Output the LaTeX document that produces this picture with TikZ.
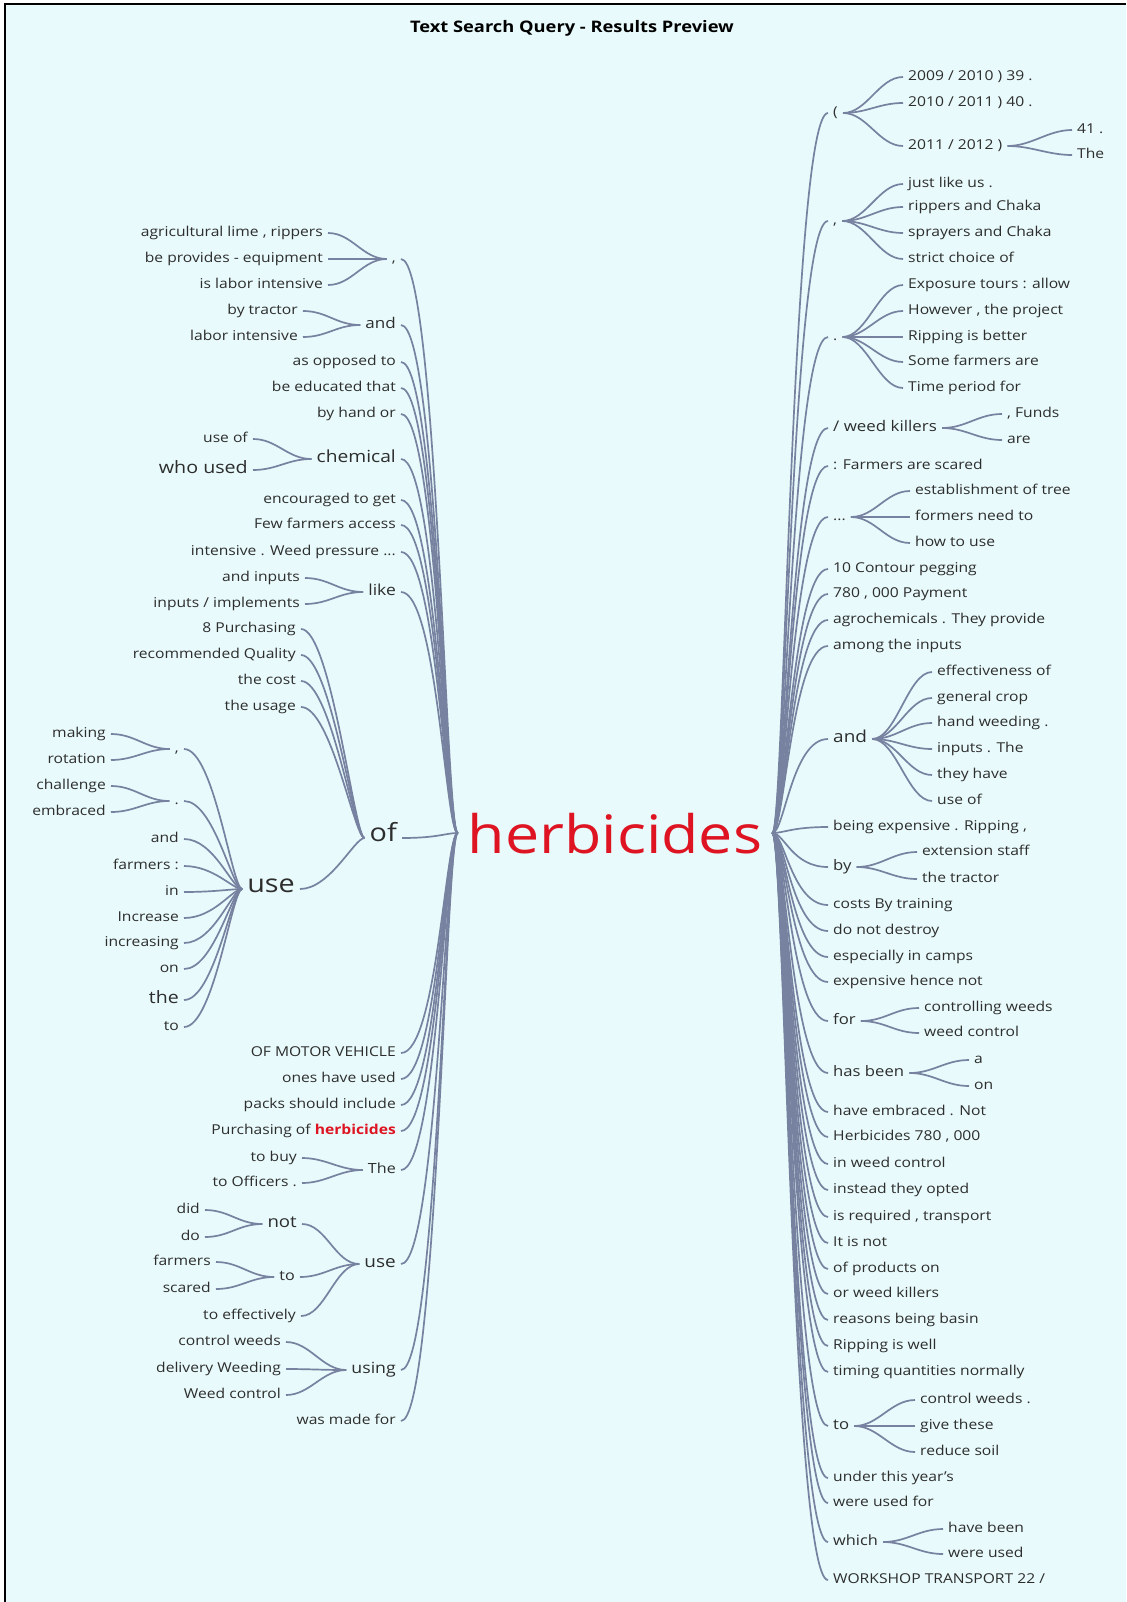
\documentclass[tikz,border=0pt]{standalone}
\usepackage{fontspec}
\setmainfont{Open Sans}[FakeStretch=1.15]

\definecolor{paper}{RGB}{232,250,251}
\definecolor{wire}{RGB}{118,130,160}
\definecolor{ink}{RGB}{45,45,45}
\definecolor{hot}{RGB}{222,20,34}

\tikzset{
  word/.style={inner xsep=5pt, inner ysep=0pt, text height=1.5ex, text depth=.25ex,
    text=ink, font=\fontsize{13.6}{16}\selectfont},
  lw/.style={word, anchor=east},
  rw/.style={word, anchor=west},
  sz/.style={font=\fontsize{#1}{#1}\selectfont},
  link/.style 2 args={draw=wire, line width=1.7pt,
    to path={.. controls +(#1,0) and +(-#2,0) .. (\tikztotarget)}},
  twig/.style={link={24}{24}},
  lroot/.style={link={36}{12}},
  rroot/.style={link={12}{36}},
}

\begin{document}
\begin{tikzpicture}[x=1pt,y=-1pt]
\useasboundingbox (0,0) rectangle (1126,1602);
\fill[white] (0,0) rectangle (1126,1602);
\fill[paper] (5,4) rectangle (1126,1602);
\draw[line width=1.5pt] (5,1602) -- (5,4) -- (1126,4);

\node[font=\bfseries\fontsize{15.9}{18}\selectfont] (title) at (572,28) {Text Search Query - Results Preview};

\node[word, text=hot, inner xsep=10pt, text height=40pt, text depth=0pt, sz=53] (hb) at (615,833) {herbicides};

% left side
\node[lw] (Lcm) at (401,259) {,};
\node[lw] (Lcm1) at (328,233) {agricultural lime , rippers};
\node[lw] (Lcm2) at (328,259) {be provides - equipment};
\node[lw] (Lcm3) at (328,285) {is labor intensive};
\node[lw,sz=14.8] (Land) at (401,325) {and};
\node[lw] (Land1) at (303,311) {by tractor};
\node[lw] (Land2) at (303,337) {labor intensive};
\node[lw] (L3) at (401,362) {as opposed to};
\node[lw] (L4) at (401,388) {be educated that};
\node[lw] (L5) at (401,414) {by hand or};
\node[lw,sz=16.7] (Lche) at (401,459) {chemical};
\node[lw] (Lche1) at (253,439) {use of};
\node[lw,sz=17.1] (Lche2) at (253,470) {who used};
\node[lw] (L7) at (401,500) {encouraged to get};
\node[lw] (L8) at (401,525) {Few farmers access};
\node[lw] (L9) at (401,552) {intensive . Weed pressure ...};
\node[lw,sz=15.2] (Llik) at (401,592) {like};
\node[lw] (Llik1) at (305,578) {and inputs};
\node[lw] (Llik2) at (305,604) {inputs / implements};
\node[lw,sz=25] (Lof) at (402,838) {of};
\node[lw] (Lof1) at (301,629) {8 Purchasing};
\node[lw] (Lof2) at (301,655) {recommended Quality};
\node[lw] (Lof3) at (301,681) {the cost};
\node[lw] (Lof4) at (301,707) {the usage};
\node[lw,sz=25] (Luse) at (300,889) {use};
\node[lw] (Lu1) at (184,749) {,};
\node[lw] (Lu1a) at (111,734) {making};
\node[lw] (Lu1b) at (111,760) {rotation};
\node[lw] (Lu2) at (184,801) {.};
\node[lw] (Lu2a) at (111,786) {challenge};
\node[lw] (Lu2b) at (111,812) {embraced};
\node[lw] (Lu3) at (184,839) {and};
\node[lw] (Lu4) at (184,866) {farmers :};
\node[lw] (Lu5) at (184,892) {in};
\node[lw] (Lu6) at (184,918) {Increase};
\node[lw] (Lu7) at (184,943) {increasing};
\node[lw] (Lu8) at (184,969) {on};
\node[lw,sz=17] (Lu9) at (184,1000) {the};
\node[lw] (Lu10) at (184,1027) {to};
\node[lw] (L12) at (401,1053) {OF MOTOR VEHICLE};
\node[lw] (L13) at (401,1079) {ones have used};
\node[lw] (L14) at (401,1105) {packs should include};
\node[lw] (L15) at (401,1131) {Purchasing of {\bfseries\color{hot}herbicides}};
\node[lw,sz=14] (LThe) at (401,1170) {The};
\node[lw] (LThe1) at (302,1158) {to buy};
\node[lw] (LThe2) at (302,1183) {to Officers .};
\node[lw,sz=16.5] (Lus) at (401,1264) {use};
\node[lw,sz=16.2] (Lnot) at (302,1224) {not};
\node[lw] (Lnot1) at (205,1210) {did};
\node[lw] (Lnot2) at (205,1237) {do};
\node[lw,sz=14] (Lto) at (300,1277) {to};
\node[lw] (Lto1) at (216,1262) {farmers};
\node[lw] (Lto2) at (216,1289) {scared};
\node[lw] (Lus3) at (301,1316) {to effectively};
\node[lw,sz=15.4] (Lusi) at (401,1370) {using};
\node[lw] (Lusi1) at (286,1342) {control weeds};
\node[lw] (Lusi2) at (286,1369) {delivery Weeding};
\node[lw] (Lusi3) at (286,1395) {Weed control};
\node[lw] (L19) at (401,1421) {was made for};

\draw[lroot] (Lcm.east) to (hb.west);
\draw[lroot] (Land.east) to (hb.west);
\draw[lroot] (L3.east) to (hb.west);
\draw[lroot] (L4.east) to (hb.west);
\draw[lroot] (L5.east) to (hb.west);
\draw[lroot] (Lche.east) to (hb.west);
\draw[lroot] (L7.east) to (hb.west);
\draw[lroot] (L8.east) to (hb.west);
\draw[lroot] (L9.east) to (hb.west);
\draw[lroot] (Llik.east) to (hb.west);
\draw[lroot] (Lof.east) to (hb.west);
\draw[lroot] (L12.east) to (hb.west);
\draw[lroot] (L13.east) to (hb.west);
\draw[lroot] (L14.east) to (hb.west);
\draw[lroot] (L15.east) to (hb.west);
\draw[lroot] (LThe.east) to (hb.west);
\draw[lroot] (Lus.east) to (hb.west);
\draw[lroot] (Lusi.east) to (hb.west);
\draw[lroot] (L19.east) to (hb.west);

\draw[twig] (Lcm1.east) to (Lcm.west);
\draw[twig] (Lcm2.east) to (Lcm.west);
\draw[twig] (Lcm3.east) to (Lcm.west);
\draw[twig] (Land1.east) to (Land.west);
\draw[twig] (Land2.east) to (Land.west);
\draw[twig] (Lche1.east) to (Lche.west);
\draw[twig] (Lche2.east) to (Lche.west);
\draw[twig] (Llik1.east) to (Llik.west);
\draw[twig] (Llik2.east) to (Llik.west);
\draw[link={30}{10}] (Lof1.east) to (Lof.west);
\draw[link={30}{10}] (Lof2.east) to (Lof.west);
\draw[link={30}{10}] (Lof3.east) to (Lof.west);
\draw[link={30}{10}] (Lof4.east) to (Lof.west);
\draw[link={30}{10}] (Luse.east) to (Lof.west);
\draw[link={30}{10}] (Lu1.east) to (Luse.west);
\draw[link={30}{10}] (Lu2.east) to (Luse.west);
\draw[link={30}{10}] (Lu3.east) to (Luse.west);
\draw[link={30}{10}] (Lu4.east) to (Luse.west);
\draw[link={30}{10}] (Lu5.east) to (Luse.west);
\draw[link={30}{10}] (Lu6.east) to (Luse.west);
\draw[link={30}{10}] (Lu7.east) to (Luse.west);
\draw[link={30}{10}] (Lu8.east) to (Luse.west);
\draw[link={30}{10}] (Lu9.east) to (Luse.west);
\draw[link={30}{10}] (Lu10.east) to (Luse.west);
\draw[twig] (Lu1a.east) to (Lu1.west);
\draw[twig] (Lu1b.east) to (Lu1.west);
\draw[twig] (Lu2a.east) to (Lu2.west);
\draw[twig] (Lu2b.east) to (Lu2.west);
\draw[twig] (LThe1.east) to (LThe.west);
\draw[twig] (LThe2.east) to (LThe.west);
\draw[twig] (Lnot.east) to (Lus.west);
\draw[twig] (Lto.east) to (Lus.west);
\draw[twig] (Lus3.east) to (Lus.west);
\draw[twig] (Lnot1.east) to (Lnot.west);
\draw[twig] (Lnot2.east) to (Lnot.west);
\draw[twig] (Lto1.east) to (Lto.west);
\draw[twig] (Lto2.east) to (Lto.west);
\draw[twig] (Lusi1.east) to (Lusi.west);
\draw[twig] (Lusi2.east) to (Lusi.west);
\draw[twig] (Lusi3.east) to (Lusi.west);

% right side
\node[rw] (Rpar) at (828,113) {(};
\node[rw] (Rpar1) at (903,77) {2009 / 2010 ) 39 .};
\node[rw] (Rpar2) at (903,103) {2010 / 2011 ) 40 .};
\node[rw] (Rpar3) at (903,146) {2011 / 2012 )};
\node[rw] (Rpar3a) at (1072,130) {41 .};
\node[rw] (Rpar3b) at (1072,155) {The};
\node[rw] (Rcm) at (828,221) {,};
\node[rw] (Rcm1) at (903,184) {just like us .};
\node[rw] (Rcm2) at (903,207) {rippers and Chaka};
\node[rw] (Rcm3) at (903,233) {sprayers and Chaka};
\node[rw] (Rcm4) at (903,259) {strict choice of};
\node[rw] (Rdot) at (828,337) {.};
\node[rw] (Rdot1) at (903,285) {Exposure tours : allow};
\node[rw] (Rdot2) at (903,311) {However , the project};
\node[rw] (Rdot3) at (903,337) {Ripping is better};
\node[rw] (Rdot4) at (903,362) {Some farmers are};
\node[rw] (Rdot5) at (903,388) {Time period for};
\node[rw,sz=14.7] (Rwk) at (828,428) {/ weed killers};
\node[rw] (Rwk1) at (1002,414) {, Funds};
\node[rw] (Rwk2) at (1002,440) {are};
\node[rw] (R5) at (828,466) {: Farmers are scared};
\node[rw] (Rell) at (828,517) {...};
\node[rw] (Rell1) at (910,491) {establishment of tree};
\node[rw] (Rell2) at (910,517) {formers need to};
\node[rw] (Rell3) at (910,543) {how to use};
\node[rw] (R7) at (828,569) {10 Contour pegging};
\node[rw] (R8) at (828,594) {780 , 000 Payment};
\node[rw] (R9) at (828,620) {agrochemicals . They provide};
\node[rw] (R10) at (828,646) {among the inputs};
\node[rw,sz=16.5] (Rand) at (828,739) {and};
\node[rw] (Rand1) at (932,672) {effectiveness of};
\node[rw] (Rand2) at (932,698) {general crop};
\node[rw] (Rand3) at (932,723) {hand weeding .};
\node[rw] (Rand4) at (932,749) {inputs . The};
\node[rw] (Rand5) at (932,775) {they have};
\node[rw] (Rand6) at (932,801) {use of};
\node[rw] (R12) at (828,827) {being expensive . Ripping ,};
\node[rw,sz=14.5] (Rby) at (828,867) {by};
\node[rw] (Rby1) at (917,852) {extension staff};
\node[rw] (Rby2) at (917,879) {the tractor};
\node[rw] (R14) at (828,905) {costs By training};
\node[rw] (R15) at (828,931) {do not destroy};
\node[rw] (R16) at (828,957) {especially in camps};
\node[rw] (R17) at (828,982) {expensive hence not};
\node[rw,sz=14.5] (Rfor) at (828,1021) {for};
\node[rw] (Rfor1) at (919,1008) {controlling weeds};
\node[rw] (Rfor2) at (919,1033) {weed control};
\node[rw,sz=14.5] (Rhas) at (828,1073) {has been};
\node[rw] (Rhas1) at (969,1060) {a};
\node[rw] (Rhas2) at (969,1086) {on};
\node[rw] (R20) at (828,1112) {have embraced . Not};
\node[rw] (R21) at (828,1137) {Herbicides 780 , 000};
\node[rw] (R22) at (828,1164) {in weed control};
\node[rw] (R23) at (828,1190) {instead they opted};
\node[rw] (R24) at (828,1217) {is required , transport};
\node[rw] (R25) at (828,1243) {It is not};
\node[rw] (R26) at (828,1269) {of products on};
\node[rw] (R27) at (828,1294) {or weed killers};
\node[rw] (R28) at (828,1320) {reasons being basin};
\node[rw] (R29) at (828,1346) {Ripping is well};
\node[rw] (R30) at (828,1372) {timing quantities normally};
\node[rw,sz=14.5] (Rto) at (828,1426) {to};
\node[rw] (Rto1) at (915,1400) {control weeds .};
\node[rw] (Rto2) at (915,1426) {give these};
\node[rw] (Rto3) at (915,1452) {reduce soil};
\node[rw] (R32) at (828,1478) {under this year's};
\node[rw] (R33) at (828,1503) {were used for};
\node[rw,sz=14.2] (Rwh) at (828,1542) {which};
\node[rw] (Rwh1) at (943,1529) {have been};
\node[rw] (Rwh2) at (943,1554) {were used};
\node[rw] (R35) at (828,1580) {WORKSHOP TRANSPORT 22 /};

\draw[rroot] (hb.east) to (Rpar.west);
\draw[rroot] (hb.east) to (Rcm.west);
\draw[rroot] (hb.east) to (Rdot.west);
\draw[rroot] (hb.east) to (Rwk.west);
\draw[rroot] (hb.east) to (R5.west);
\draw[rroot] (hb.east) to (Rell.west);
\draw[rroot] (hb.east) to (R7.west);
\draw[rroot] (hb.east) to (R8.west);
\draw[rroot] (hb.east) to (R9.west);
\draw[rroot] (hb.east) to (R10.west);
\draw[rroot] (hb.east) to (Rand.west);
\draw[rroot] (hb.east) to (R12.west);
\draw[rroot] (hb.east) to (Rby.west);
\draw[rroot] (hb.east) to (R14.west);
\draw[rroot] (hb.east) to (R15.west);
\draw[rroot] (hb.east) to (R16.west);
\draw[rroot] (hb.east) to (R17.west);
\draw[rroot] (hb.east) to (Rfor.west);
\draw[rroot] (hb.east) to (Rhas.west);
\draw[rroot] (hb.east) to (R20.west);
\draw[rroot] (hb.east) to (R21.west);
\draw[rroot] (hb.east) to (R22.west);
\draw[rroot] (hb.east) to (R23.west);
\draw[rroot] (hb.east) to (R24.west);
\draw[rroot] (hb.east) to (R25.west);
\draw[rroot] (hb.east) to (R26.west);
\draw[rroot] (hb.east) to (R27.west);
\draw[rroot] (hb.east) to (R28.west);
\draw[rroot] (hb.east) to (R29.west);
\draw[rroot] (hb.east) to (R30.west);
\draw[rroot] (hb.east) to (Rto.west);
\draw[rroot] (hb.east) to (R32.west);
\draw[rroot] (hb.east) to (R33.west);
\draw[rroot] (hb.east) to (Rwh.west);
\draw[rroot] (hb.east) to (R35.west);

\draw[twig] (Rpar.east) to (Rpar1.west);
\draw[twig] (Rpar.east) to (Rpar2.west);
\draw[twig] (Rpar.east) to (Rpar3.west);
\draw[twig] (Rpar3.east) to (Rpar3a.west);
\draw[twig] (Rpar3.east) to (Rpar3b.west);
\draw[twig] (Rcm.east) to (Rcm1.west);
\draw[twig] (Rcm.east) to (Rcm2.west);
\draw[twig] (Rcm.east) to (Rcm3.west);
\draw[twig] (Rcm.east) to (Rcm4.west);
\draw[twig] (Rdot.east) to (Rdot1.west);
\draw[twig] (Rdot.east) to (Rdot2.west);
\draw[twig] (Rdot.east) to (Rdot3.west);
\draw[twig] (Rdot.east) to (Rdot4.west);
\draw[twig] (Rdot.east) to (Rdot5.west);
\draw[twig] (Rwk.east) to (Rwk1.west);
\draw[twig] (Rwk.east) to (Rwk2.west);
\draw[twig] (Rell.east) to (Rell1.west);
\draw[twig] (Rell.east) to (Rell2.west);
\draw[twig] (Rell.east) to (Rell3.west);
\draw[twig] (Rand.east) to (Rand1.west);
\draw[twig] (Rand.east) to (Rand2.west);
\draw[twig] (Rand.east) to (Rand3.west);
\draw[twig] (Rand.east) to (Rand4.west);
\draw[twig] (Rand.east) to (Rand5.west);
\draw[twig] (Rand.east) to (Rand6.west);
\draw[twig] (Rby.east) to (Rby1.west);
\draw[twig] (Rby.east) to (Rby2.west);
\draw[twig] (Rfor.east) to (Rfor1.west);
\draw[twig] (Rfor.east) to (Rfor2.west);
\draw[twig] (Rhas.east) to (Rhas1.west);
\draw[twig] (Rhas.east) to (Rhas2.west);
\draw[twig] (Rto.east) to (Rto1.west);
\draw[twig] (Rto.east) to (Rto2.west);
\draw[twig] (Rto.east) to (Rto3.west);
\draw[twig] (Rwh.east) to (Rwh1.west);
\draw[twig] (Rwh.east) to (Rwh2.west);
\end{tikzpicture}
\end{document}
